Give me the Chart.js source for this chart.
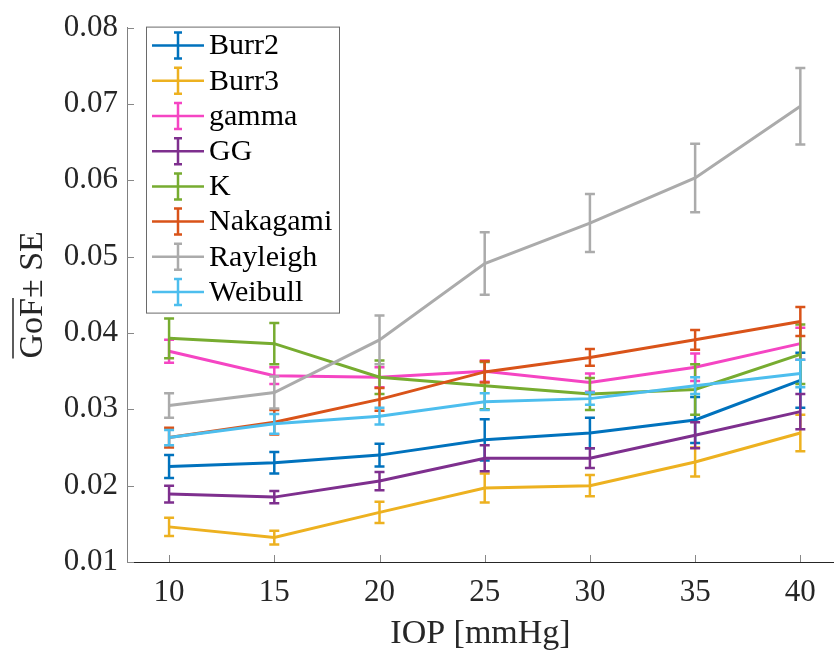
<!DOCTYPE html>
<html>
<head>
    <title>GoF vs IOP</title>
    <script src="https://cdn.jsdelivr.net/npm/chart.js"></script>
    <style>
        html, body { margin: 0; padding: 0; background: #fff; overflow: hidden; }
        #gofChart { display: block; }
    </style>
</head>
<body>
<canvas id="gofChart" width="834" height="657"></canvas>
<script>
    // IOP levels and axis ticks
    const iop = [10, 15, 20, 25, 30, 35, 40];
    const xTicks = [10, 15, 20, 25, 30, 35, 40];
    const yTicks = [0.01, 0.02, 0.03, 0.04, 0.05, 0.06, 0.07, 0.08];

    // mean GoF and standard error per distribution
    const burr2Mean    = [0.0225, 0.0230, 0.0240, 0.0260, 0.0269, 0.0286, 0.0338];
    const burr2Se      = [0.0015, 0.0014, 0.0015, 0.0027, 0.0020, 0.0030, 0.0036];
    const burr3Mean    = [0.0146, 0.0132, 0.0165, 0.0197, 0.0200, 0.0231, 0.0269];
    const burr3Se      = [0.0012, 0.0009, 0.0014, 0.0019, 0.0014, 0.0019, 0.0024];
    const gammaMean    = [0.0376, 0.0344, 0.0342, 0.0350, 0.0335, 0.0355, 0.0386];
    const gammaSe      = [0.0015, 0.0011, 0.0013, 0.0014, 0.0012, 0.0018, 0.0021];
    const ggMean       = [0.0189, 0.0185, 0.0206, 0.0236, 0.0236, 0.0266, 0.0297];
    const ggSe         = [0.0011, 0.0008, 0.0012, 0.0017, 0.0013, 0.0017, 0.0023];
    const kMean        = [0.0393, 0.0386, 0.0342, 0.0331, 0.0320, 0.0326, 0.0372];
    const kSe          = [0.0026, 0.0027, 0.0022, 0.0031, 0.0021, 0.0033, 0.0039];
    const nakagamiMean = [0.0263, 0.0283, 0.0313, 0.0349, 0.0368, 0.0391, 0.0415];
    const nakagamiSe   = [0.0013, 0.0016, 0.0015, 0.0014, 0.0011, 0.0013, 0.0019];
    const rayleighMean = [0.0305, 0.0322, 0.0391, 0.0491, 0.0544, 0.0603, 0.0697];
    const rayleighSe   = [0.0016, 0.0021, 0.0032, 0.0041, 0.0038, 0.0045, 0.0050];
    const weibullMean  = [0.0263, 0.0281, 0.0291, 0.0310, 0.0314, 0.0331, 0.0347];
    const weibullSe    = [0.0010, 0.0013, 0.0011, 0.0011, 0.0008, 0.0011, 0.0018];

    const FONT = "'Liberation Serif', 'DejaVu Serif', serif";
    const AXIS = '#262626';

    const series = [
        { label: 'Burr2',    mean: burr2Mean,    se: burr2Se,    color: '#0072BD' },
        { label: 'Burr3',    mean: burr3Mean,    se: burr3Se,    color: '#EDB120' },
        { label: 'gamma',    mean: gammaMean,    se: gammaSe,    color: '#F545C3' },
        { label: 'GG',       mean: ggMean,       se: ggSe,       color: '#7E2F8E' },
        { label: 'K',        mean: kMean,        se: kSe,        color: '#77AC30' },
        { label: 'Nakagami', mean: nakagamiMean, se: nakagamiSe, color: '#D95319' },
        { label: 'Rayleigh', mean: rayleighMean, se: rayleighSe, color: '#ABABAB' },
        { label: 'Weibull',  mean: weibullMean,  se: weibullSe,  color: '#4DBEEE' }
    ];

    // vertical error bars, drawn right after each dataset's line
    const errorBars = {
        id: 'errorBars',
        afterDatasetDraw(chart, args) {
            const ds = chart.data.datasets[args.index];
            if (!ds.errors) return;
            const { ctx, scales: { x, y } } = chart;
            ctx.save();
            ctx.strokeStyle = ds.borderColor;
            ctx.lineWidth = 2.5;
            ds.data.forEach((p, i) => {
                const px = x.getPixelForValue(p.x);
                const top = y.getPixelForValue(p.y + ds.errors[i]);
                const bot = y.getPixelForValue(p.y - ds.errors[i]);
                ctx.beginPath();
                ctx.moveTo(px, top); ctx.lineTo(px, bot);
                ctx.moveTo(px - 5, top); ctx.lineTo(px + 5, top);
                ctx.moveTo(px - 5, bot); ctx.lineTo(px + 5, bot);
                ctx.stroke();
            });
            ctx.restore();
        }
    };

    // inward tick marks, y label with overline, legend box
    const decorations = {
        id: 'decorations',
        beforeDatasetsDraw(chart) {
            const { ctx, chartArea: a, scales: { x, y } } = chart;
            ctx.save();
            ctx.lineWidth = 1;
            ctx.strokeStyle = '#888';
            ctx.beginPath();
            xTicks.forEach(v => {
                const px = Math.round(x.getPixelForValue(v)) + 0.5;
                ctx.moveTo(px, a.bottom); ctx.lineTo(px, a.bottom - 7);
            });
            yTicks.forEach(v => {
                const py = Math.round(y.getPixelForValue(v)) + 0.5;
                ctx.moveTo(a.left, py); ctx.lineTo(a.left + 7, py);
            });
            ctx.stroke();
            ctx.restore();
        },
        afterDraw(chart) {
            const { ctx, chartArea: a } = chart;

            // y axis label
            ctx.save();
            ctx.font = '34px ' + FONT;
            ctx.fillStyle = AXIS;
            ctx.translate(42, (a.top + a.bottom) / 2);
            ctx.rotate(-Math.PI / 2);
            const part1 = 'GoF', part2 = '\u00b1 SE';
            const w1 = ctx.measureText(part1).width;
            const w = w1 + ctx.measureText(part2).width;
            ctx.textBaseline = 'alphabetic';
            ctx.fillText(part1, -w / 2, 0);
            ctx.fillText(part2, -w / 2 + w1, 0);
            ctx.strokeStyle = AXIS;
            ctx.lineWidth = 1.5;
            ctx.beginPath();
            ctx.moveTo(-w / 2, -29); ctx.lineTo(-w / 2 + w1, -29);
            ctx.stroke();
            ctx.restore();

            // legend
            const lx = a.left + 19, ly = a.top - 1, lw = 193, lh = 286, row = 35.2;
            ctx.save();
            ctx.fillStyle = '#fff';
            ctx.fillRect(lx, ly, lw, lh);
            ctx.strokeStyle = '#6a6a6a';
            ctx.lineWidth = 1;
            ctx.strokeRect(lx + 0.5, ly + 0.5, lw, lh);
            ctx.font = '30px ' + FONT;
            ctx.textBaseline = 'middle';
            chart.data.datasets.forEach((ds, i) => {
                const cy = ly + 19 + i * row;
                ctx.strokeStyle = ds.borderColor;
                ctx.lineWidth = 2.5;
                ctx.beginPath();
                ctx.moveTo(lx + 6, cy); ctx.lineTo(lx + 58, cy);
                ctx.moveTo(lx + 32, cy - 13); ctx.lineTo(lx + 32, cy + 13);
                ctx.moveTo(lx + 28, cy - 13); ctx.lineTo(lx + 36, cy - 13);
                ctx.moveTo(lx + 28, cy + 13); ctx.lineTo(lx + 36, cy + 13);
                ctx.stroke();
                ctx.fillStyle = '#000';
                ctx.fillText(ds.label, lx + 63, cy + 1);
            });
            ctx.restore();
        }
    };

    new Chart(document.getElementById('gofChart').getContext('2d'), {
        type: 'line',
        data: {
            datasets: series.map((s, i) => ({
                label: s.label,
                data: iop.map((v, j) => ({ x: v, y: s.mean[j] })),
                errors: s.se,
                borderColor: s.color,
                backgroundColor: s.color,
                borderWidth: 3,
                pointRadius: 0,
                fill: false,
                tension: 0,
                order: series.length - i
            }))
        },
        options: {
            responsive: false,
            animation: false,
            events: [],
            layout: { padding: { left: 0, right: 0, top: 21, bottom: 0 } },
            plugins: {
                legend: { display: false },
                tooltip: { enabled: false }
            },
            scales: {
                x: {
                    type: 'linear',
                    min: 8,
                    max: 41.6,
                    afterFit(scale) { scale.height = 95; },
                    afterBuildTicks(scale) { scale.ticks = xTicks.map(v => ({ value: v })); },
                    grid: { display: false, drawTicks: false },
                    border: { display: true, color: AXIS, width: 1 },
                    ticks: {
                        padding: 12,
                        color: AXIS,
                        maxRotation: 0,
                        font: { family: FONT, size: 31 },
                        callback: v => String(v)
                    },
                    title: {
                        display: true,
                        text: 'IOP [mmHg]',
                        color: AXIS,
                        font: { family: FONT, size: 34 },
                        padding: { top: 0, bottom: 3 }
                    }
                },
                y: {
                    min: 0.01,
                    max: 0.08,
                    afterFit(scale) { scale.width = 127; },
                    afterBuildTicks(scale) { scale.ticks = yTicks.map(v => ({ value: v })); },
                    grid: { display: false, drawTicks: false },
                    border: { display: true, color: '#808080', width: 1 },
                    ticks: {
                        padding: 9,
                        color: AXIS,
                        font: { family: FONT, size: 31 },
                        callback: v => v.toFixed(2)
                    }
                }
            }
        },
        plugins: [errorBars, decorations]
    });
</script>
</body>
</html>
